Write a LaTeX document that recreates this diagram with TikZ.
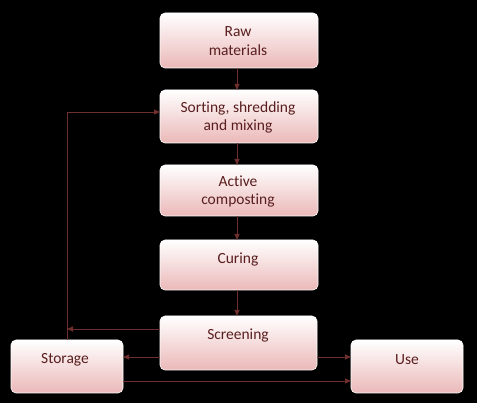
\documentclass[tikz,border=0pt]{standalone}
\usepackage{fontspec}
\setmainfont[Ligatures=NoCommon]{Carlito}
\usetikzlibrary{arrows.meta}
\definecolor{txt}{HTML}{5A1E1E}
\definecolor{ln}{HTML}{6E2E2E}
\definecolor{pinkb}{HTML}{EBB8B8}
\tikzset{
  box/.style={rounded corners=5pt, top color=white, bottom color=pinkb, draw=white, line width=0.6pt},
  lbl/.style={text=txt, font=\fontsize{15.5}{18.5}\selectfont, align=center, inner sep=0pt},
  conn/.style={draw=ln, line width=0.8pt, -{Triangle[length=6pt,width=5pt]}},
  plain/.style={draw=ln, line width=0.8pt}
}
\begin{document}
\begin{tikzpicture}[x=1pt,y=-1pt]
\fill[black] (0,0) rectangle (477,403);
\useasboundingbox (0,0) rectangle (477,403);
% boxes
\path[box] (160,13) rectangle (318,68);
\path[box] (160,90) rectangle (318,143);
\path[box] (160,165) rectangle (318,216);
\path[box] (160,240) rectangle (318,290);
\path[box] (160,316) rectangle (317,370);
\path[box] (11,340) rectangle (123,393);
\path[box] (351,340) rectangle (463,393);
% anchors
\coordinate (rawB) at (237,68);
\coordinate (sortT) at (237,90);
\coordinate (sortB) at (237,143);
\coordinate (actT) at (237,165);
\coordinate (actB) at (237,216);
\coordinate (curT) at (237,240);
\coordinate (curB) at (237,290);
\coordinate (scrT) at (237,316);
\coordinate (sortL) at (160,112);
\coordinate (scrL1) at (160,329);
\coordinate (scrL2) at (160,357);
\coordinate (scrR) at (317,357);
\coordinate (stoT) at (67,340);
\coordinate (stoR1) at (123,357);
\coordinate (stoR2) at (123,381);
\coordinate (useL1) at (351,357);
\coordinate (useL2) at (351,381);
\coordinate (loop) at (67,329);
% labels
\node[lbl] (raw) at (238,41) {Raw\\materials};
\node[lbl] (sort) at (238,117.5) {Sorting, shredding\\and mixing};
\node[lbl] (act) at (238,191.5) {Active\\composting};
\node[lbl] (cur) at (238,260) {Curing};
\node[lbl] (scr) at (238,336) {Screening};
\node[lbl] (sto) at (65,360) {Storage};
\node[lbl] (use) at (407,360) {Use};
% connectors
\draw[conn] (rawB) -- (sortT);
\draw[conn] (sortB) -- (actT);
\draw[conn] (actB) -- (curT);
\draw[conn] (curB) -- (scrT);
\draw[conn] (scrL1) -- (loop);
\draw[conn] (stoT) |- (sortL);
\draw[conn] (scrL2) -- (stoR1);
\draw[conn] (scrR) -- (useL1);
\draw[conn] (stoR2) -- (useL2);
\end{tikzpicture}
\end{document}
